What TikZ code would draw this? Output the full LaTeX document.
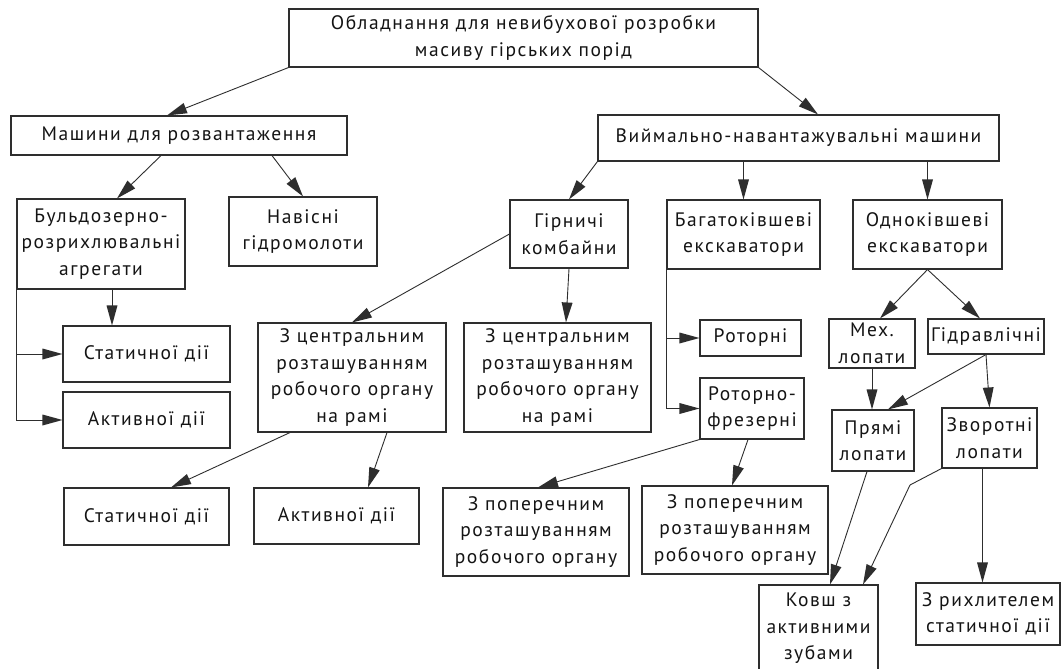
\documentclass[tikz,border=0pt]{standalone}
\usepackage{fontspec}
\setmainfont{PT Sans}[LetterSpace=8]
\usetikzlibrary{calc}
\definecolor{ln}{HTML}{2E2E2E}
\definecolor{tx}{HTML}{141414}
\tikzset{
  box/.style={draw=ln, line width=1.1pt, inner sep=0pt, align=center, text=tx,
    font=\fontsize{19.5}{26.5}\selectfont},
  conn/.style={draw=ln, line width=0.9pt, shorten >=4pt},
  headfill/.style={fill=ln}
}
\newcommand\arrhd[2]{\fill[headfill] (#2) -- ($(#2)!20pt!(#1)!5.5pt!90:(#2)$) -- ($(#2)!20pt!(#1)!5.5pt!-90:(#2)$) -- cycle;}
\newcommand\linkto[2]{\draw[conn] (#1) -- (#2); \arrhd{#1}{#2}}
\begin{document}
\begin{tikzpicture}[x=1pt,y=1pt]
\useasboundingbox (0,0) rectangle (1061,-669);
\fill[white] (0,0) rectangle (1061,-669);
% nodes
\node[box,minimum width=469pt,minimum height=58pt] (top) at (523.5,-38) {Обладнання для невибухової розробки\\масиву гірських порід};
\node[box,minimum width=336pt,minimum height=39pt] (mash) at (179,-135.5) {Машини для розвантаження};
\node[box,minimum width=401pt,minimum height=46pt] (viim) at (798.5,-138) {Виймально-навантажувальні машини};
\node[box,minimum width=168pt,minimum height=90pt] (buld) at (101,-244) {Бульдозерно-\\розрихлювальні\\агрегати};
\node[box,minimum width=148pt,minimum height=69pt] (navis) at (303,-231.5) {Навісні\\гідромолоти};
\node[box,minimum width=167pt,minimum height=56pt] (stat1) at (146.5,-354) {Статичної дії};
\node[box,minimum width=167pt,minimum height=56pt] (akt1) at (146.5,-420) {Активної дії};
\node[box,minimum width=188pt,minimum height=109pt] (cent1) at (352,-377.5) {З центральним\\розташуванням\\робочого органу\\на рамі};
\node[box,minimum width=118pt,minimum height=68pt] (girn) at (569,-234) {Гірничі\\комбайни};
\node[box,minimum width=153pt,minimum height=69pt] (bagat) at (743.5,-234.5) {Багатоківшеві\\екскаватори};
\node[box,minimum width=187pt,minimum height=109pt] (cent2) at (557.5,-377.5) {З центральним\\розташуванням\\робочого органу\\на рамі};
\node[box,minimum width=101pt,minimum height=36pt] (rotor) at (750.5,-338) {Роторні};
\node[box,minimum width=104pt,minimum height=61pt] (rotfr) at (752,-408.5) {Роторно-\\фрезерні};
\node[box,minimum width=149pt,minimum height=69pt] (odno) at (927.5,-234.5) {Однокiвшеві\\екскаватори};
\node[box,minimum width=86pt,minimum height=49pt] (meh) at (872,-343.5) {Мех.\\лопати};
\node[box,minimum width=116pt,minimum height=35pt] (gidr) at (986,-336.5) {Гідравлічні};
\node[box,minimum width=82pt,minimum height=61pt] (pryami) at (873,-440.5) {Прямі\\лопати};
\node[box,minimum width=95pt,minimum height=60pt] (zvor) at (989.5,-438) {Зворотні\\лопати};
\node[box,minimum width=165pt,minimum height=57pt] (stat2) at (146.5,-516.5) {Статичної дії};
\node[box,minimum width=165pt,minimum height=56pt] (akt2) at (336.5,-516) {Активної дії};
\node[box,minimum width=186pt,minimum height=88pt] (pop1) at (536,-532) {З поперечним\\розташуванням\\робочого органу};
\node[box,minimum width=186pt,minimum height=88pt] (pop2) at (735,-530) {З поперечним\\розташуванням\\робочого органу};
\node[box,minimum width=119pt,minimum height=87pt] (kovsh) at (818.5,-628.5) {Ковш з\\активними\\зубами};
\node[box,minimum width=144pt,minimum height=62pt] (rykh) at (988,-614) {З рихлителем\\статичної дії};
% connector end points
\coordinate (e1) at ([xshift=-12pt]mash.north);
\coordinate (e2) at ([xshift=19.5pt]viim.north);
\coordinate (s3) at ([xshift=-18pt]mash.south);
\coordinate (e3) at ([xshift=16pt]buld.north);
\coordinate (s4) at ([xshift=93pt]mash.south);
\coordinate (s5) at ([xshift=11pt]buld.south);
\coordinate (e5) at (s5 |- stat1.north);
\coordinate (k6) at (buld.south west |- stat1.west);
\coordinate (k7) at (buld.south west |- akt1.west);
\coordinate (s9) at (viim.south -| bagat.north);
\coordinate (s10) at (viim.south -| odno.north);
\coordinate (e12) at ([xshift=8.5pt]cent2.north);
\coordinate (k13) at (bagat.south west |- rotor.west);
\coordinate (k14) at (bagat.south west |- rotfr.west);
\coordinate (e15) at ([xshift=8pt]meh.north);
\coordinate (e16) at ([xshift=-6pt]gidr.north);
\coordinate (e17) at (meh.south |- pryami.north);
\coordinate (e18) at ([xshift=15pt]pryami.north);
\coordinate (s20) at ([xshift=-62pt]cent1.south);
\coordinate (e20) at ([xshift=24.5pt]stat2.north);
\coordinate (s21) at ([xshift=35pt]cent1.south);
\coordinate (e21) at ([xshift=31.5pt]akt2.north);
\coordinate (e22) at ([xshift=2pt]pop1.north);
\coordinate (s23) at ([xshift=-4pt]rotfr.south);
\coordinate (e23) at ([xshift=-3pt]pop2.north);
\coordinate (s24) at ([xshift=-6pt]pryami.south);
\coordinate (e24) at ([xshift=11.5pt]kovsh.north);
\coordinate (bend) at (910,-485);
\coordinate (e25) at ([xshift=44.5pt]kovsh.north);
\coordinate (s26) at ([xshift=-7pt]zvor.south);
\coordinate (e26) at (s26 |- rykh.north);
% connectors
\linkto{top.south west}{e1}
\linkto{top.south east}{e2}
\linkto{s3}{e3}
\linkto{s4}{navis.north}
\linkto{s5}{e5}
\draw[conn, shorten >=0pt] (buld.south west) -- (k6);
\linkto{k6}{stat1.west}
\draw[conn, shorten >=0pt] (buld.south west) -- (k7);
\linkto{k7}{akt1.west}
\linkto{viim.south west}{girn.north}
\linkto{s9}{bagat.north}
\linkto{s10}{odno.north}
\linkto{girn.west}{cent1.north}
\linkto{girn.south}{e12}
\draw[conn, shorten >=0pt] (bagat.south west) -- (k14);
\linkto{k13}{rotor.west}
\linkto{k14}{rotfr.west}
\linkto{odno.south}{e15}
\linkto{odno.south}{e16}
\linkto{meh.south}{e17}
\linkto{gidr.south}{e18}
\linkto{gidr.south}{zvor.north}
\linkto{s20}{e20}
\linkto{s21}{e21}
\linkto{rotfr.south west}{e22}
\linkto{s23}{e23}
\linkto{s24}{e24}
\draw[conn, shorten >=0pt] (zvor.south west) -- (bend);
\linkto{bend}{e25}
\linkto{s26}{e26}
\end{tikzpicture}
\end{document}
